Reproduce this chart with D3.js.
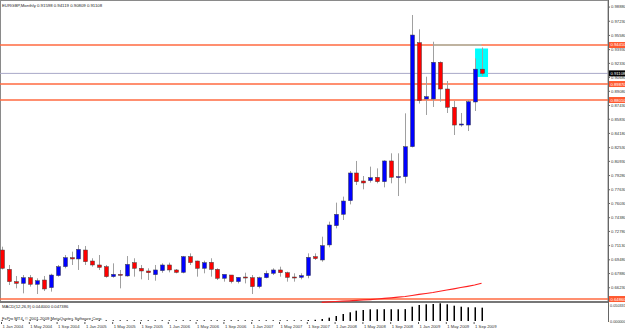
<!DOCTYPE html>
<html>
<head>
<meta charset="utf-8">
<script src="https://cdn.jsdelivr.net/npm/d3@7"></script>
<style>
  body { margin: 0; background: #fff; }
  text { font-family: "Liberation Sans", Arial, sans-serif; }
</style>
</head>
<body>
<div id="chart"></div>
<script>
// EURGBP monthly, Jan 2004 .. Oct 2009
var startMonth = new Date(2004, 0, 1);
var opens  = [0.7056,0.6831,0.6688,0.6668,0.6734,0.6657,0.6707,0.6618,0.6758,0.6862,0.6967,0.6952,
              0.7056,0.6928,0.6882,0.6862,0.6746,0.6773,0.6754,0.6909,0.6843,0.6812,0.6769,0.6816,
              0.6882,0.6824,0.6796,0.6979,0.6928,0.6843,0.6913,0.6831,0.6727,0.6765,0.6688,0.6742,
              0.6734,0.6630,0.6734,0.6785,0.6824,0.6792,0.6742,0.6738,0.6758,0.6979,0.6940,0.7115,
              0.7339,0.7471,0.7630,0.7952,0.7859,0.7863,0.7902,0.7851,0.8092,0.7906,0.7909,0.8258,
              0.9468,0.8813,0.8813,0.9240,0.8929,0.8716,0.8510,0.8510,0.8778,0.91598];
var highs  = [0.7095,0.6882,0.6754,0.6765,0.6765,0.6727,0.6754,0.6780,0.6882,0.6998,0.7037,0.7114,
              0.7103,0.6960,0.6998,0.6882,0.6901,0.6824,0.6986,0.6960,0.6882,0.6843,0.6882,0.6901,
              0.6909,0.6835,0.6987,0.7017,0.6932,0.6932,0.6960,0.6843,0.6765,0.6765,0.6738,0.6792,
              0.6765,0.6746,0.6816,0.6843,0.6862,0.6804,0.6785,0.6785,0.7017,0.7017,0.7211,0.7386,
              0.7607,0.7677,0.7975,0.8092,0.7917,0.8026,0.8006,0.8100,0.8181,0.8181,0.8646,0.9790,
              0.9624,0.9072,0.9479,0.9250,0.9022,0.8790,0.8650,0.8801,0.9286,0.94119];
var lows   = [0.6830,0.6649,0.6610,0.6552,0.6630,0.6544,0.6579,0.6572,0.6746,0.6843,0.6882,0.6824,
              0.6882,0.6862,0.6823,0.6734,0.6734,0.6610,0.6746,0.6746,0.6715,0.6707,0.6699,0.6792,
              0.6796,0.6785,0.6785,0.6882,0.6746,0.6785,0.6746,0.6707,0.6688,0.6668,0.6668,0.6668,
              0.6544,0.6610,0.6727,0.6765,0.6746,0.6688,0.6688,0.6715,0.6727,0.6940,0.6920,0.7087,
              0.7308,0.7405,0.7587,0.7812,0.7762,0.7840,0.7832,0.7785,0.7832,0.7684,0.7832,0.8250,
              0.8760,0.8627,0.8720,0.8781,0.8650,0.8394,0.8491,0.8440,0.8673,0.90809];
var closes = [0.6843,0.6688,0.6668,0.6734,0.6657,0.6699,0.6603,0.6765,0.6862,0.6967,0.6952,0.7064,
              0.6920,0.6882,0.6854,0.6746,0.6773,0.6762,0.6889,0.6843,0.6812,0.6792,0.6824,0.6882,
              0.6824,0.6796,0.6979,0.6909,0.6843,0.6909,0.6831,0.6727,0.6773,0.6688,0.6738,0.6738,
              0.6630,0.6734,0.6785,0.6824,0.6792,0.6738,0.6738,0.6758,0.6971,0.6956,0.7107,0.7347,
              0.7471,0.7626,0.7952,0.7851,0.7836,0.7898,0.7851,0.8092,0.7902,0.7910,0.8258,0.9557,
              0.8795,0.8840,0.9240,0.8929,0.8716,0.8510,0.8522,0.8781,0.9160,0.91108];

// MACD(12,26,9) main histogram
var macd = [0.002,0.002,0.002,0.002,0.002,0.002,0.002,0.002,0.002,0.002,0.002,0.002,
            0.002,0.002,0.002,0.002,0.002,0.002,0.002,0.002,0.002,0.002,0.002,0.002,
            0.002,0.002,0.002,0.002,0.002,0.002,0.002,0.002,0.002,0.002,0.002,0.002,
            0.002,0.002,0.002,0.002,0.002,0.002,0.002,0.002,0.003,0.004,0.0066,0.0110,
            0.0165,0.0231,0.0287,0.0340,0.0363,0.0386,0.0386,0.0390,0.0388,0.0386,0.0392,0.0472,
            0.0528,0.0551,0.0561,0.0584,0.0551,0.0505,0.0472,0.0452,0.0452,0.0440];

// red average line, from Nov 2007 (index 46)
var avgStart = 46;
var avgLine = [0.6447,0.6452,0.6457,0.6461,0.6465,0.6470,0.6475,0.6480,0.6486,0.6493,0.6500,0.6507,
               0.6515,0.6527,0.6539,0.6550,0.6562,0.6576,0.6591,0.6605,0.6620,0.6634,0.6649,0.6669];

var hLevels = [0.94410, 0.89870, 0.88010, 0.64860];
var lastPrice = 0.91108;
var priceTicks = [0.98880,0.97230,0.95580,0.93930,0.92330,0.90680,0.89080,0.87430,0.85830,0.84180,
                  0.82530,0.80930,0.79280,0.77630,0.76030,0.74380,0.72780,0.71130,0.69480,0.67880,0.66230];
var macdTicks = [0.050331, 0.00000];
var titleText = "EURGBP,Monthly  0.91598 0.94119 0.90809 0.91108";
var macdText = "MACD(12,26,9) 0.044000 0.047386";
var copyText = "FxPro MT4, \u00a9 2001-2009 MetaQuotes Software Corp.";

var width = 625, height = 330;
var axisX = 608;
var mainTop = 1, mainBottom = 301;
var macdTop = 303, macdBottom = 321;

var months = d3.timeMonth.range(startMonth, d3.timeMonth.offset(startMonth, opens.length));
var data = months.map(function(m, i) {
  return { date: m, i: i, o: opens[i], h: highs[i], l: lows[i], c: closes[i], macd: macd[i] };
});

var svg = d3.select("#chart").append("svg")
  .attr("width", width)
  .attr("height", height)
  .style("display", "block");

svg.append("rect").attr("width", width).attr("height", height).attr("fill", "#fff");

var x = d3.scaleLinear().domain([0, 69]).range([2, 2 + 69 * 6.95]);
var y = d3.scaleLinear().domain([0.64629, 0.99528]).range([mainBottom, mainTop]);
var yM = d3.scaleLinear().domain([0, 0.0594]).range([macdBottom, macdTop]);

// frames
svg.append("rect")
  .attr("x", 0.5).attr("y", 0.5)
  .attr("width", axisX - 0.5).attr("height", mainBottom)
  .attr("fill", "none").attr("stroke", "#8a8a8a");
svg.append("line")
  .attr("x1", 0).attr("x2", axisX).attr("y1", 302).attr("y2", 302)
  .attr("stroke", "#777").attr("stroke-width", 2);
svg.append("line")
  .attr("x1", axisX + 0.5).attr("x2", axisX + 0.5).attr("y1", 0).attr("y2", 322)
  .attr("stroke", "#666");

// horizontal levels
svg.selectAll("line.level")
  .data(hLevels)
  .enter()
  .append("line")
  .attr("class", "level")
  .attr("x1", 0).attr("x2", axisX)
  .attr("y1", function(d) { return y(d); })
  .attr("y2", function(d) { return y(d); })
  .attr("stroke", "#ff6a40").attr("stroke-width", 1.4);

// current price line
svg.append("line")
  .attr("x1", 0).attr("x2", axisX)
  .attr("y1", y(lastPrice)).attr("y2", y(lastPrice))
  .attr("stroke", "#a8a8c8").attr("stroke-width", 1);

// cyan box and line around the last candle
svg.append("rect")
  .attr("x", x(69) - 6.5).attr("y", y(highs[69]) + 1)
  .attr("width", 13).attr("height", y(lows[69]) - y(highs[69]))
  .attr("fill", "#00ffff");
svg.append("line")
  .attr("x1", x(62)).attr("x2", x(69))
  .attr("y1", y(hLevels[0])).attr("y2", y(hLevels[0]))
  .attr("stroke", "#80d8d0").attr("stroke-width", 1.2);

// candles
var candles = svg.append("g");
candles.selectAll("line.wick")
  .data(data)
  .enter()
  .append("line")
  .attr("class", "wick")
  .attr("x1", function(d) { return Math.round(x(d.i)) + 0.5; })
  .attr("x2", function(d) { return Math.round(x(d.i)) + 0.5; })
  .attr("y1", function(d) { return y(d.h); })
  .attr("y2", function(d) { return y(d.l); })
  .attr("stroke", "#a0a0a0");

candles.selectAll("rect.body")
  .data(data)
  .enter()
  .append("rect")
  .attr("class", "body")
  .attr("x", function(d) { return Math.round(x(d.i)) - 1.5; })
  .attr("y", function(d) { return y(Math.max(d.o, d.c)); })
  .attr("width", 4)
  .attr("height", function(d) { return Math.max(1, Math.abs(y(d.o) - y(d.c))); })
  .attr("fill", function(d) { return d.c >= d.o ? "#0000ff" : "#ff0000"; })
  .attr("stroke", "#404040")
  .attr("stroke-width", 0.5);

// red average line
var avgData = avgLine.map(function(v, k) { return { i: avgStart + k, v: v }; });
svg.append("path")
  .datum(avgData)
  .attr("fill", "none")
  .attr("stroke", "#ff2020")
  .attr("stroke-width", 1.2)
  .attr("d", d3.line().x(function(d) { return x(d.i); }).y(function(d) { return y(d.v); }));

// MACD histogram
svg.selectAll("rect.macd")
  .data(data)
  .enter()
  .append("rect")
  .attr("class", "macd")
  .attr("x", function(d) { return Math.round(x(d.i)) - 0.5; })
  .attr("y", function(d) { return yM(d.macd); })
  .attr("width", 1.5)
  .attr("height", function(d) { return yM(0) - yM(d.macd); })
  .attr("fill", "#000");

// right price axis
var yAxis = svg.append("g")
  .attr("transform", "translate(" + axisX + ",0)")
  .call(d3.axisRight(y).tickValues(priceTicks).tickFormat(d3.format(".5f")).tickSize(2).tickPadding(1));
yAxis.select(".domain").remove();
yAxis.selectAll("text").attr("font-size", 4.2).attr("fill", "#333");
yAxis.selectAll("line").attr("stroke", "#666");

// level labels
var labelData = hLevels.map(function(v) { return { v: v, bg: "#ff5a30" }; })
  .concat([{ v: lastPrice, bg: "#000" }]);
var lab = svg.selectAll("g.plabel")
  .data(labelData)
  .enter()
  .append("g")
  .attr("class", "plabel")
  .attr("transform", function(d) { return "translate(" + (axisX + 1) + "," + y(d.v) + ")"; });
lab.append("rect")
  .attr("x", 0).attr("y", -3).attr("width", 16).attr("height", 6)
  .attr("fill", function(d) { return d.bg; });
lab.append("text")
  .attr("x", 1.5).attr("y", 1.5)
  .attr("font-size", 4.2).attr("fill", "#fff")
  .text(function(d) { return d3.format(".5f")(d.v); });

// MACD axis labels
svg.selectAll("text.mtick")
  .data(macdTicks)
  .enter()
  .append("text")
  .attr("class", "mtick")
  .attr("x", axisX + 2)
  .attr("y", function(d) { return yM(d) + 1.5; })
  .attr("font-size", 3.8).attr("fill", "#333")
  .text(function(d) { return d3.format(".6f")(d); });

// x axis
var xTicks = d3.range(0, months.length, 4);
var xAxis = svg.append("g")
  .attr("transform", "translate(0," + (macdBottom + 1) + ")")
  .call(d3.axisBottom(x).tickValues(xTicks).tickSize(2).tickPadding(1)
    .tickFormat(function(i) { return d3.timeFormat("%-d %b %Y")(months[i]); }));
xAxis.select(".domain").remove();
xAxis.selectAll("line").attr("stroke", "#555").attr("transform", "translate(-1,0)");
xAxis.selectAll("text")
  .attr("text-anchor", "start")
  .attr("font-size", 4.2).attr("fill", "#333")
  .attr("dy", "0.6em");

// texts
svg.append("text").attr("x", 2).attr("y", 6.5).attr("font-size", 4.3).attr("fill", "#222").text(titleText);
svg.append("text").attr("x", 2).attr("y", 308).attr("font-size", 4.2).attr("fill", "#222").text(macdText);
svg.append("text").attr("x", 2).attr("y", 320).attr("font-size", 4.2).attr("fill", "#222").text(copyText);
</script>
</body>
</html>
